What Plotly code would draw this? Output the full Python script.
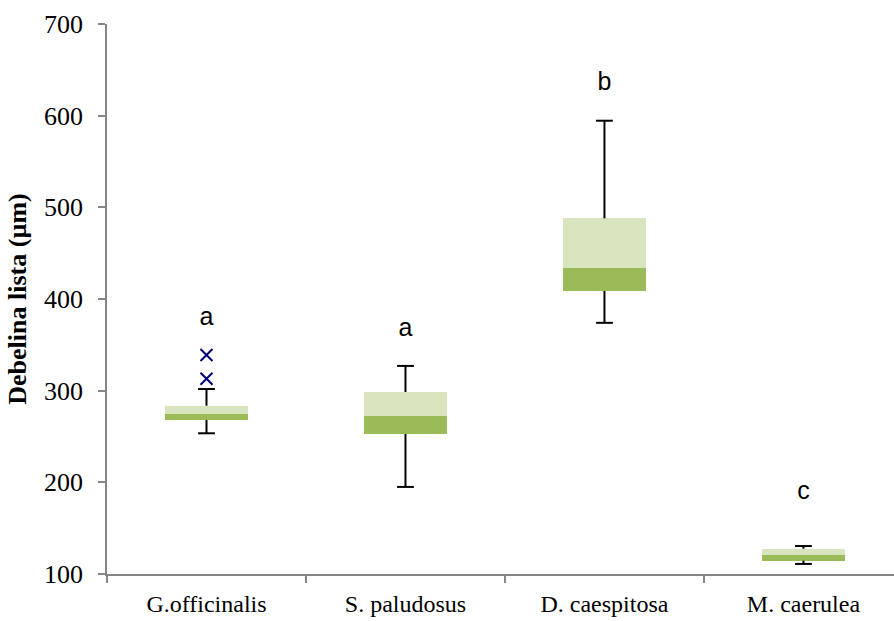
import plotly.graph_objects as go

# Leaf thickness per species (µm): five-number summaries
species = ["G.officinalis", "S. paludosus", "D. caespitosa", "M. caerulea"]
whisker_min = [253.5, 195, 374, 111]
q1 = [268, 252.7, 408.7, 114.5]
median = [274.5, 272.4, 433.5, 120.7]
q3 = [283.6, 298.5, 488, 127.6]
whisker_max = [301.8, 327, 594.5, 130.5]

# Outliers (species, value)
outlier_species = ["G.officinalis", "G.officinalis"]
outlier_values = [339, 313]

# Significance group letters and their heights
group_letters = ["a", "a", "b", "c"]
letter_y = [378, 366, 635, 189]

y_ticks = [100, 200, 300, 400, 500, 600, 700]

DARK = "#9BBB59"
LIGHT = "#D7E4BD"
AXIS = "#868686"
BOX_W = 0.415

fig = go.Figure()

# Lower half of the box: Q1 -> median
fig.add_trace(go.Bar(
    x=species, y=[m - a for m, a in zip(median, q1)], base=q1,
    width=BOX_W, marker=dict(color=DARK, line=dict(width=0)),
    hoverinfo="skip", showlegend=False,
))
# Upper half of the box: median -> Q3
fig.add_trace(go.Bar(
    x=species, y=[b - m for b, m in zip(q3, median)], base=median,
    width=BOX_W, marker=dict(color=LIGHT, line=dict(width=0)),
    hoverinfo="skip", showlegend=False,
))

# Whisker stems
wx, wy = [], []
for s, lo, a, b, hi in zip(species, whisker_min, q1, q3, whisker_max):
    wx += [s, s, None, s, s, None]
    wy += [b, hi, None, lo, a, None]
fig.add_trace(go.Scatter(
    x=wx, y=wy, mode="lines", line=dict(color="black", width=2),
    hoverinfo="skip", showlegend=False, connectgaps=False,
))
# Whisker caps
fig.add_trace(go.Scatter(
    x=species + species, y=whisker_max + whisker_min, mode="markers",
    marker=dict(symbol="line-ew", size=12, line=dict(color="black", width=2)),
    hoverinfo="skip", showlegend=False,
))
# Outliers
fig.add_trace(go.Scatter(
    x=outlier_species, y=outlier_values, mode="markers",
    marker=dict(symbol="x-thin", size=12, line=dict(color="#000080", width=2)),
    hoverinfo="skip", showlegend=False,
))
# Group letters
fig.add_trace(go.Scatter(
    x=species, y=letter_y, mode="text", text=group_letters,
    textfont=dict(family="Liberation Sans, Arial, sans-serif", size=25, color="black"),
    hoverinfo="skip", showlegend=False,
))

fig.update_layout(
    width=894, height=621,
    margin=dict(l=107, r=0, t=24, b=47),
    paper_bgcolor="white", plot_bgcolor="white",
    barmode="overlay", bargap=0,
    font=dict(family="Liberation Serif, Times New Roman, serif", color="black"),
)
fig.update_xaxes(
    type="category", categoryorder="array", categoryarray=species,
    range=[-0.5, 3.455], tickson="boundaries",
    showline=True, linecolor=AXIS, linewidth=1.5,
    ticks="outside", ticklen=7, tickcolor=AXIS, tickwidth=1.5,
    tickfont=dict(size=24), showgrid=False, zeroline=False,
    ticklabelstandoff=7,
)
fig.update_yaxes(
    range=[100, 700], tickvals=y_ticks,
    showline=True, linecolor=AXIS, linewidth=1.5,
    ticks="outside", ticklen=7, tickcolor=AXIS, tickwidth=1.5,
    tickfont=dict(size=26), showgrid=False, zeroline=False,
    ticklabelstandoff=10,
    title=dict(text="<b>Debelina lista (µm)</b>", font=dict(size=26), standoff=10),
)

fig.write_html("out.html")
